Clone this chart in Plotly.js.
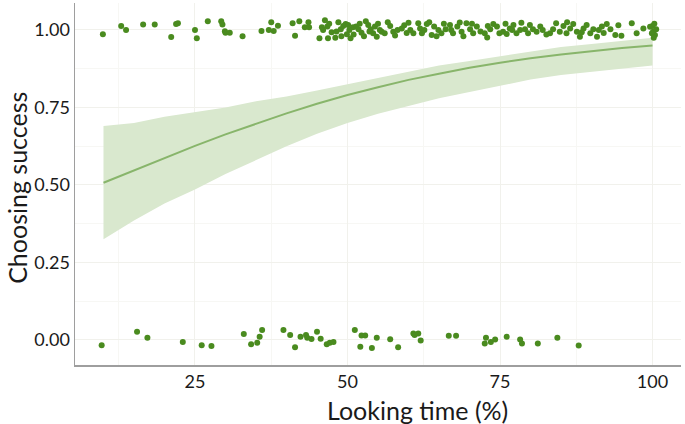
<!DOCTYPE html>
<html>
<head>
<meta charset="utf-8">
<script src="https://cdn.plot.ly/plotly-3.0.1.min.js"></script>
<style>
  html, body { margin: 0; padding: 0; background: #fff; }
  #myDiv { width: 685px; height: 424px; }
</style>
</head>
<body>
<div id="myDiv"></div>
<script>
// looking time (%) and choosing success (jittered 0/1 outcomes)
var topX = [9.9, 12.9, 13.7, 16.5, 18.4, 21.1, 21.9, 22.2, 25.0, 25.3, 27.1, 29.3, 29.5, 29.9, 30.0, 30.7,
  32.8, 35.9, 37.5, 37.1, 37.9, 38.6, 41.0, 41.4, 42.1, 43.6, 43.0, 43.7, 45.4, 46.3, 45.8, 46.7, 46.8,
  47.4, 48.0, 48.2, 48.9, 49.3, 49.7, 50.1, 49.9, 50.5, 50.9, 51.4, 51.8, 52.3, 53.0, 53.4, 53.8, 54.2,
  54.5, 54.8, 55.6, 56.1, 57.0, 57.5, 58.2, 58.9, 60.0, 60.8, 61.6, 61.9, 62.2, 63.0, 63.8, 64.2, 64.9,
  65.4, 66.1, 66.8, 67.3, 68.0, 68.7, 69.5, 70.1, 70.6, 71.2, 72.5, 72.9, 73.4, 73.9, 74.5, 74.9, 75.5,
  76.1, 76.6, 77.2, 77.7, 78.3, 78.5, 79.1, 79.6, 80.4, 81.0, 81.6, 83.2, 83.7, 84.2, 84.8, 85.4, 85.9,
  86.5, 87.0, 87.6, 88.1, 88.7, 89.2, 89.8, 90.3, 90.9, 91.7, 92.5, 93.1, 93.9, 94.9, 96.6, 97.4, 100.0,
  100.1, 100.4, 99.9, 100.6,
  46.0, 47.0, 48.5, 49.0, 50.3, 51.0, 52.0, 52.7, 53.6, 55.0, 55.3, 56.6, 57.8, 59.3, 59.7, 60.3, 62.6,
  63.4, 64.6, 65.8, 67.0, 68.4, 69.0, 70.4, 71.8, 73.0, 75.9, 77.0, 79.9, 82.0, 82.6, 86.0, 88.4, 91.2,
  92.0, 94.4, 98.5, 99.6, 100.2, 100.3];
var topY = [0.986, 1.013, 1.0, 1.018, 1.018, 0.977, 1.019, 1.022, 1.0, 0.973, 1.028, 1.028, 1.018, 0.996,
  0.991, 0.991, 0.98, 0.997, 1.025, 1.0, 0.997, 1.014, 1.022, 0.981, 1.028, 1.025, 1.009, 1.009, 0.973,
  1.031, 1.009, 1.011, 0.973, 0.993, 0.975, 0.995, 1.002, 1.013, 1.019, 1.016, 0.986, 0.973, 1.009,
  1.011, 1.002, 0.991, 1.028, 1.016, 1.002, 0.989, 1.011, 0.978, 0.994, 0.989, 1.013, 0.994, 1.0,
  1.005, 1.023, 0.989, 1.022, 1.005, 0.989, 1.019, 0.984, 1.011, 1.0, 0.989, 1.002, 1.016, 0.989,
  1.011, 0.994, 1.022, 1.002, 0.989, 1.011, 0.989, 0.976, 1.002, 1.019, 1.011, 0.989, 0.994, 0.987,
  1.005, 1.016, 0.989, 1.0, 1.023, 1.002, 0.989, 1.002, 0.994, 1.011, 0.989, 1.002, 1.022, 0.994,
  1.013, 0.989, 1.005, 1.019, 0.994, 0.978, 1.005, 1.016, 0.989, 1.002, 0.978, 1.011, 1.019, 1.002,
  0.984, 0.981, 1.022, 0.989, 1.013, 0.994, 0.984, 0.989, 1.002,
  1.0, 1.02, 1.025, 0.98, 1.0, 0.985, 1.02, 0.98, 0.995, 1.02, 1.0, 1.025, 0.982, 1.015, 0.99, 1.0, 1.0,
  1.025, 0.98, 1.02, 1.0, 1.024, 0.98, 1.02, 0.995, 1.013, 1.02, 1.0, 1.016, 1.0, 0.985, 1.025, 0.993,
  1.0, 0.99, 1.015, 1.005, 1.01, 0.975, 1.02];

var botX = [9.7, 15.5, 17.2, 23.0, 26.1, 27.7, 33.0, 34.2, 35.2, 35.6, 36.0, 39.5, 40.6, 41.4, 42.3,
  43.2, 43.4, 44.1, 45.0, 45.6, 46.6, 47.1, 47.7, 51.2, 52.1, 52.3, 52.9, 54.0, 54.8, 57.0, 58.3,
  60.8, 61.6, 62.0, 61.0, 66.6, 67.8, 72.7, 72.5, 73.5, 74.2, 76.1, 78.3, 78.6, 81.2, 84.4, 87.9];
var botY = [-0.017, 0.026, 0.007, -0.007, -0.017, -0.02, 0.019, -0.014, -0.009, 0.01, 0.032, 0.032,
  0.016, -0.024, 0.01, 0.016, 0.007, 0.003, 0.026, 0.004, -0.014, -0.009, -0.007, 0.032, -0.022,
  0.014, 0.014, -0.026, 0.007, 0.002, -0.024, 0.021, 0.021, -0.002, 0.016, 0.013, 0.013, 0.007,
  -0.012, -0.007, 0.001, 0.01, 0.001, -0.012, -0.012, 0.007, -0.018];

// fitted logistic curve with confidence band
var fitX = [10, 15, 20, 25, 30, 35, 40, 45, 50, 55, 60, 65, 70, 75, 80, 85, 90, 95, 100];
var fitY = [0.507, 0.547, 0.587, 0.626, 0.663, 0.698, 0.731, 0.762, 0.79, 0.815, 0.839, 0.859,
  0.878, 0.894, 0.909, 0.921, 0.932, 0.942, 0.95];
var fitHi = [0.69, 0.70, 0.72, 0.735, 0.75, 0.77, 0.785, 0.805, 0.825, 0.845, 0.865, 0.885, 0.90,
  0.915, 0.93, 0.945, 0.955, 0.965, 0.975];
var fitLo = [0.325, 0.385, 0.44, 0.485, 0.535, 0.58, 0.625, 0.665, 0.70, 0.73, 0.755, 0.78, 0.80,
  0.82, 0.84, 0.855, 0.865, 0.875, 0.885];

var ptColor = "#4a8b1f";

var lo = {
  x: fitX, y: fitLo, type: "scatter", mode: "lines",
  line: { width: 0, color: "rgba(0,0,0,0)" }, hoverinfo: "skip", showlegend: false,
};
var hi = {
  x: fitX, y: fitHi, type: "scatter", mode: "lines", fill: "tonexty",
  fillcolor: "#d9e8ce", line: { width: 0, color: "rgba(0,0,0,0)" },
  hoverinfo: "skip", showlegend: false,
};
var fit = {
  x: fitX, y: fitY, type: "scatter", mode: "lines",
  line: { color: "#88b56b", width: 2 }, showlegend: false,
};
var ones = {
  x: topX, y: topY, type: "scatter", mode: "markers",
  marker: { color: ptColor, size: 6 }, showlegend: false,
};
var zeros = {
  x: botX, y: botY, type: "scatter", mode: "markers",
  marker: { color: ptColor, size: 6 }, showlegend: false,
};

var data = [lo, hi, fit, ones, zeros];

var layout = {
  width: 685,
  height: 424,
  margin: { l: 75, r: 4, t: 3, b: 59 },
  paper_bgcolor: "#fff",
  plot_bgcolor: "#fff",
  font: { family: "Lato, 'Open Sans', sans-serif", color: "#1a1a1a" },
  xaxis: {
    range: [5.33, 104.67],
    tickvals: [25, 50, 75, 100],
    ticktext: ["25", "50", "75", "100"],
    tickfont: { size: 18 },
    showline: true, linecolor: "#9e9e9e", linewidth: 1.5,
    gridcolor: "#f1f1ec", zeroline: false,
    minor: { dtick: 12.5, tick0: 0, showgrid: true, gridcolor: "#f7f7f4" },
  },
  yaxis: {
    range: [-0.081, 1.087],
    tickvals: [0, 0.25, 0.5, 0.75, 1],
    ticktext: ["0.00", "0.25", "0.50", "0.75", "1.00"],
    tickfont: { size: 18 },
    showline: true, linecolor: "#9e9e9e", linewidth: 1.5,
    gridcolor: "#f1f1ec", zeroline: false,
    minor: { dtick: 0.125, tick0: 0, showgrid: true, gridcolor: "#f7f7f4" },
  },
  annotations: [
    {
      text: "Looking time (%)", showarrow: false,
      xref: "paper", yref: "paper", x: 0.566, y: -0.0773,
      xanchor: "center", yanchor: "top",
      font: { size: 25 },
    },
    {
      text: "Choosing success", showarrow: false, textangle: -90,
      xref: "paper", yref: "paper", x: -0.097, y: 0.49,
      xanchor: "center", yanchor: "middle",
      font: { size: 25 },
    },
  ],
};

const config = { displayModeBar: false, staticPlot: true };

Plotly.newPlot("myDiv", data, layout, config);
</script>
</body>
</html>
